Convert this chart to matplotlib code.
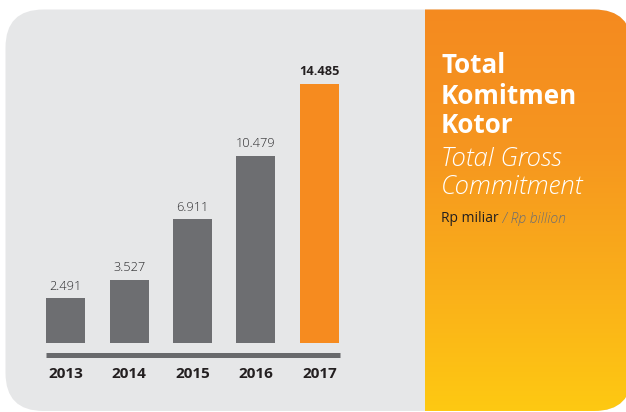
import numpy as np
import matplotlib
matplotlib.use("Agg")
import matplotlib.pyplot as plt
from matplotlib.patches import FancyBboxPatch
from matplotlib.colors import LinearSegmentedColormap

plt.rcParams["font.family"] = ["Open Sans", "DejaVu Sans"]

years = ["2013", "2014", "2015", "2016", "2017"]
values = [2491, 3527, 6911, 10479, 14485]
value_labels = ["2.491", "3.527", "6.911", "10.479", "14.485"]

BG = "#e6e7e8"
BAR = "#6d6e71"
ORANGE = "#f68b1f"
INK = "#231f20"
W, H = 626, 412

fig = plt.figure(figsize=(W / 100, H / 100), dpi=100)
fig.patch.set_facecolor("white")

# ---- background panels, pixel coordinates
bg = fig.add_axes([0, 0, 1, 1])
bg.set_xlim(0, W)
bg.set_ylim(H, 0)
bg.axis("off")

panel = FancyBboxPatch((5.5 + 38, 9.5 + 38), 632 - 5.5 - 76, 411 - 9.5 - 76,
                       boxstyle="round,pad=38", facecolor=BG,
                       edgecolor="none", zorder=1)
bg.add_patch(panel)

grad = LinearSegmentedColormap.from_list(
    "og", [(0, "#f48a20"), (0.35, "#f6961f"), (0.7, "#fab01a"),
           (1, "#fec912")])
img = bg.imshow(np.linspace(0, 1, 256).reshape(-1, 1), cmap=grad,
                aspect="auto", extent=(425, 640, 411, 9.5), zorder=2,
                interpolation="bilinear")
img.set_clip_path(panel)
bg.set_xlim(0, W)
bg.set_ylim(H, 0)

# baseline under the bars
bg.plot([46, 340], [355, 355], color="#68696c", lw=3.6,
        solid_capstyle="butt", zorder=3)

# title block
tx = 441
for txt, y in [("Total", 73), ("Komitmen", 104), ("Kotor", 133)]:
    bg.text(tx, y, txt, color="white", fontsize=18.7, fontweight="bold",
            va="baseline", ha="left", zorder=4)
for txt, y in [("Total Gross", 166), ("Commitment", 194)]:
    bg.text(tx, y, txt, color="white", fontsize=18.5, style="italic",
            fontweight="light", va="baseline", ha="left", zorder=4)
t1 = bg.text(tx, 222, "Rp miliar", color=INK, fontsize=10,
             va="baseline", ha="left", zorder=4)
bg.annotate(" / Rp billion", xy=(1, 0), xycoords=t1, va="bottom",
            ha="left", color="#6d6e71", fontsize=10, style="italic",
            fontweight="light", zorder=4)

# ---- bars
ax = fig.add_axes([34 / W, 69 / H, 317 / W, 303 / H])
ax.patch.set_alpha(0)
colors = [BAR] * 4 + [ORANGE]
bars = ax.bar(range(len(years)), values, width=0.614, color=colors)
ax.set_xlim(-0.5, 4.5)
ax.set_ylim(0, 14485 * 303 / 259)
for s in ax.spines.values():
    s.set_visible(False)
ax.set_yticks([])
ax.set_xticks(range(len(years)))
ax.set_xticklabels(years, fontsize=11, fontweight="bold", color=INK)
ax.tick_params(axis="x", length=0, pad=17)

for i, (b, lab) in enumerate(zip(bars, value_labels)):
    last = i == len(values) - 1
    ax.annotate(lab, (b.get_x() + b.get_width() / 2, b.get_height()),
                xytext=(0, 4), textcoords="offset points", ha="center",
                va="bottom", fontsize=9.2, color=INK if last else "#29292b",
                fontweight="bold" if last else "light")

fig.savefig("out.png", dpi=100, facecolor="white")
